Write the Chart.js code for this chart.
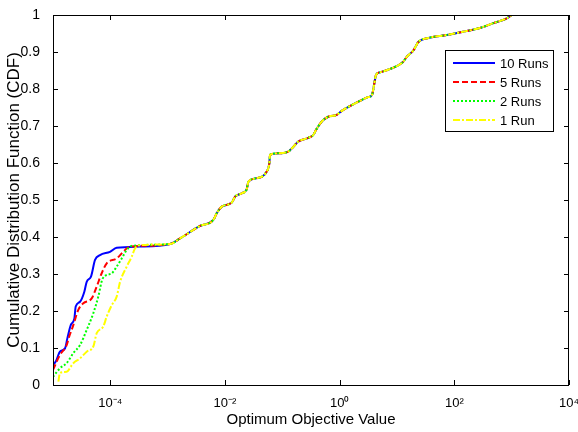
<!DOCTYPE html>
<html><head><meta charset="utf-8">
<script src="https://cdn.jsdelivr.net/npm/chart.js@4.4.0/dist/chart.umd.min.js"></script>
<style>html,body{margin:0;padding:0;background:#fff}#wrap{width:578px;height:432px}</style>
</head><body><div id="wrap"><canvas id="c" width="578" height="432"></canvas></div>
<script>
// ---- data ----
const seriesLabels = ['10 Runs', '5 Runs', '2 Runs', '1 Run'];

// lower (diverging) parts of each CDF
const runs10X = [1.0e-5, 1.13e-5, 1.32e-5, 1.62e-5, 1.78e-5, 2.04e-5, 2.36e-5, 2.49e-5, 2.96e-5, 3.52e-5, 3.87e-5, 4.6e-5, 5.41e-5, 6.61e-5, 9.86e-5, 1.29e-4, 3.3e-4];
const runs10Y = [0.054, 0.065, 0.09, 0.099, 0.126, 0.162, 0.18, 0.212, 0.225, 0.252, 0.279, 0.293, 0.338, 0.351, 0.36, 0.371, 0.374];

const runs5X = [1.0e-5, 1.32e-5, 1.73e-5, 1.92e-5, 2.26e-5, 2.76e-5, 3.38e-5, 4.73e-5, 5.78e-5, 7.06e-5, 8.65e-5, 1.29e-4, 1.68e-4, 2.06e-4, 3.3e-4];
const runs5Y = [0.041, 0.081, 0.108, 0.131, 0.162, 0.203, 0.221, 0.234, 0.266, 0.302, 0.329, 0.342, 0.36, 0.372, 0.376];

const runs2X = [1.0e-5, 1.32e-5, 1.73e-5, 2.26e-5, 2.96e-5, 3.87e-5, 5.05e-5, 6.17e-5, 7.36e-5, 1.06e-4, 1.29e-4, 1.58e-4, 1.93e-4, 2.36e-4];
const runs2Y = [0.022, 0.045, 0.059, 0.086, 0.108, 0.149, 0.194, 0.239, 0.288, 0.302, 0.32, 0.342, 0.365, 0.376];

const runs1X = [1.24e-5, 1.32e-5, 1.73e-5, 2.26e-5, 2.96e-5, 3.87e-5, 5.05e-5, 5.78e-5, 7.53e-5, 8.65e-5, 1.06e-4, 1.29e-4, 1.48e-4, 1.93e-4, 2.36e-4, 2.69e-4, 3.3e-4];
const runs1Y = [0.009, 0.032, 0.036, 0.059, 0.072, 0.09, 0.104, 0.14, 0.158, 0.185, 0.216, 0.239, 0.279, 0.32, 0.347, 0.369, 0.378];

// shared upper part (all series coincide)
const sharedX = [1.1e-3, 1.64e-3, 3.66e-3, 6.25e-3, 7.16e-3, 8.77e-3, 1.31e-2, 1.5e-2, 1.95e-2, 2.39e-2, 2.55e-2, 3.33e-2, 5.35e-2, 5.93e-2, 6.1e-2, 7.98e-2, 0.127, 0.156, 0.19, 0.284, 0.347, 0.386, 0.486, 0.634, 0.887, 1.09, 1.51, 2.26, 3.12, 3.66, 3.97, 4.31, 5.06, 7.55, 12.9, 14.8, 19.3, 23.6, 35.2, 73.6, 143.5, 281, 479, 820, 1000];
const sharedY = [0.381, 0.396, 0.43, 0.446, 0.464, 0.482, 0.493, 0.509, 0.518, 0.529, 0.549, 0.558, 0.577, 0.599, 0.622, 0.626, 0.631, 0.644, 0.658, 0.668, 0.676, 0.689, 0.712, 0.725, 0.73, 0.741, 0.754, 0.768, 0.778, 0.784, 0.81, 0.838, 0.845, 0.854, 0.874, 0.887, 0.904, 0.927, 0.938, 0.946, 0.955, 0.965, 0.978, 0.991, 1.0];

const xTickValues = [1e-4, 1e-2, 1, 1e2, 1e4];
const xTickLabels = ['10\u207B\u2074', '10\u207B\u00B2', '10\u2070', '10\u00B2', '10\u2074'];
const yTickValues = [0, 0.1, 0.2, 0.3, 0.4, 0.5, 0.6, 0.7, 0.8, 0.9, 1];
const yTickLabels = ['0', '0.1', '0.2', '0.3', '0.4', '0.5', '0.6', '0.7', '0.8', '0.9', '1'];

// ---- build ----
function pts(xs, ys) {
  const a = xs.map((x, i) => ({x: x, y: ys[i]}));
  return a.concat(sharedX.map((x, i) => ({x: x, y: sharedY[i]})));
}
const FONT = 'Liberation Sans, Arial, Helvetica, sans-serif';

const styles = [
  {color: '#0000ff', dash: []},
  {color: '#ff0000', dash: [6, 3]},
  {color: '#00ff00', dash: [2, 2]},
  {color: '#ffff00', dash: [7, 2, 2, 2]}
];
const seriesData = [pts(runs10X, runs10Y), pts(runs5X, runs5Y), pts(runs2X, runs2Y), pts(runs1X, runs1Y)];

const datasets = seriesLabels.map((lab, i) => ({
  label: lab,
  data: seriesData[i],
  borderColor: styles[i].color,
  borderDash: styles[i].dash,
  borderWidth: 2,
  pointRadius: 0,
  fill: false,
  cubicInterpolationMode: 'monotone',
  order: 4 - i
}));

const matlabAxes = {
  id: 'matlabAxes',
  afterDraw(chart) {
    const {ctx, chartArea: a, scales: {x, y}} = chart;
    const L = 5;
    ctx.save();
    ctx.strokeStyle = '#000';
    ctx.lineWidth = 1;
    ctx.beginPath();
    x.ticks.forEach(t => {
      const px = Math.round(x.getPixelForValue(t.value)) + 0.5;
      ctx.moveTo(px, a.bottom); ctx.lineTo(px, a.bottom - L);
      ctx.moveTo(px, a.top); ctx.lineTo(px, a.top + L);
    });
    y.ticks.forEach(t => {
      const py = Math.round(y.getPixelForValue(t.value)) + 0.5;
      ctx.moveTo(a.left, py); ctx.lineTo(a.left + L, py);
      ctx.moveTo(a.right, py); ctx.lineTo(a.right - L, py);
    });
    ctx.stroke();
    ctx.strokeRect(a.left + 0.5, a.top + 0.5, a.right - a.left - 1, a.bottom - a.top);
    // legend
    const bx = 445, by = 50, bw = 108, bh = 81;
    ctx.fillStyle = '#fff';
    ctx.fillRect(bx, by, bw, bh);
    ctx.strokeRect(bx + 0.5, by + 0.5, bw, bh);
    ctx.font = '13px ' + FONT;
    ctx.textBaseline = 'middle';
    ctx.textAlign = 'left';
    chart.data.datasets.forEach((ds, i) => {
      const ly = 63 + i * 19;
      ctx.beginPath();
      ctx.strokeStyle = ds.borderColor;
      ctx.lineWidth = 2;
      ctx.setLineDash(ds.borderDash);
      ctx.moveTo(453, ly); ctx.lineTo(495, ly);
      ctx.stroke();
      ctx.setLineDash([]);
      ctx.fillStyle = '#000';
      ctx.fillText(ds.label, 500, ly + 1);
    });
    ctx.restore();
  }
};

new Chart(document.getElementById('c'), {
  type: 'line',
  data: {datasets: datasets},
  plugins: [matlabAxes],
  options: {
    responsive: false,
    devicePixelRatio: 1,
    animation: false,
    layout: {padding: {left: 0, right: 9, top: 15, bottom: 0}},
    plugins: {legend: {display: false}, tooltip: {enabled: false}},
    scales: {
      x: {
        type: 'logarithmic',
        min: 1e-5, max: 1e4,
        grid: {display: false},
        border: {display: false},
        afterBuildTicks: s => { s.ticks = xTickValues.map(v => ({value: v})); },
        afterFit: s => { s.height = 47; s.paddingLeft = 0; s.paddingRight = 0; },
        ticks: {
          autoSkip: false, maxRotation: 0, padding: 3, color: '#000',
          font: {family: FONT, size: 13},
          callback: v => xTickLabels[xTickValues.indexOf(v)]
        },
        title: {display: true, text: 'Optimum Objective Value', color: '#000',
          font: {family: FONT, size: 15}, padding: {top: 0, bottom: 3}}
      },
      y: {
        type: 'linear',
        min: 0, max: 1,
        grid: {display: false},
        border: {display: false},
        afterBuildTicks: s => { s.ticks = yTickValues.map(v => ({value: v})); },
        afterFit: s => { s.width = 53; s.paddingTop = 0; s.paddingBottom = 0; },
        ticks: {padding: 5, color: '#000', font: {family: FONT, size: 14},
          callback: v => yTickLabels[yTickValues.indexOf(v)]},
        title: {display: true, text: 'Cumulative Distribution Function (CDF)', color: '#000',
          font: {family: FONT, size: 17}, padding: {top: 4, bottom: 0}}
      }
    }
  }
});
</script>
</body></html>
